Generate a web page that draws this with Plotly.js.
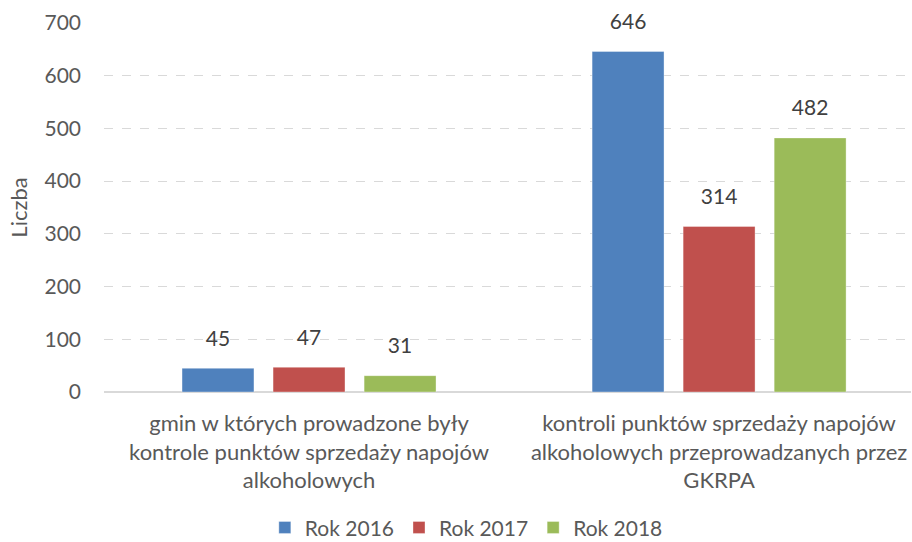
<!DOCTYPE html>
<html>
<head>
<meta charset="utf-8">
<script src="https://cdn.plot.ly/plotly-3.0.1.min.js"></script>
<style>html,body{margin:0;padding:0;background:#fff;}#chart{width:912px;height:542px;}</style>
</head>
<body>
<div id="chart"></div>
<script>
const categories = [
  "gmin w których prowadzone były<br>kontrole punktów sprzedaży napojów<br>alkoholowych",
  "kontroli punktów sprzedaży napojów<br>alkoholowych przeprowadzanych przez<br>GKRPA"
];
const seriesNames = ["Rok 2016", "Rok 2017", "Rok 2018"];
const values2016 = [45, 646];
const values2017 = [47, 314];
const values2018 = [31, 482];
const seriesValues = [values2016, values2017, values2018];
const colors = ["#4F81BD", "#C0504D", "#9BBB59"];

const FONT = "Lato, 'Open Sans', sans-serif";
const TXT = "#595959";

const traces = [];
seriesValues.forEach((vals, i) => {
  traces.push({
    type: "bar",
    name: seriesNames[i],
    x: categories,
    y: vals,
    offsetgroup: String(i),
    marker: {color: colors[i], line: {color: "rgba(255,255,255,0.35)", width: 1}},
    hoverinfo: "skip"
  });
});
seriesValues.forEach((vals, i) => {
  traces.push({
    type: "scatter",
    mode: "markers+text",
    x: categories,
    y: vals,
    offsetgroup: String(i),
    text: vals.map(String),
    textposition: "top center",
    textfont: {family: FONT, size: 21, color: "#404040"},
    marker: {size: 26, opacity: 0},
    showlegend: false,
    hoverinfo: "skip",
    cliponaxis: false
  });
});

const layout = {
  width: 912, height: 542,
  margin: {l: 104, r: 1, t: 23, b: 150, autoexpand: false},
  paper_bgcolor: "#fff", plot_bgcolor: "#fff",
  barmode: "group",
  scattermode: "group",
  bargap: 0.334,
  bargroupgap: 0.21,
  scattergap: 0.334,
  font: {family: FONT, color: TXT, size: 21},
  xaxis: {
    type: "category",
    range: [-0.5, 1.468],
    showgrid: false,
    showline: false,
    zeroline: false,
    ticks: "",
    ticklabelstandoff: 16,
    tickfont: {family: FONT, size: 22, color: TXT},
    fixedrange: true,
    automargin: false
  },
  yaxis: {
    range: [0, 700],
    dtick: 100,
    showgrid: true,
    gridcolor: "#D9D9D9",
    griddash: "dash",
    gridwidth: 1,
    zeroline: true,
    zerolinecolor: "#D9D9D9",
    zerolinewidth: 1.5,
    showline: false,
    ticks: "",
    ticklabelstandoff: 22,
    tickfont: {family: FONT, size: 21, color: TXT},
    title: {text: "Liczba", font: {family: FONT, size: 22, color: TXT}, standoff: 10},
    fixedrange: true,
    automargin: false
  },
  legend: {
    orientation: "h",
    x: 0.449, xanchor: "center",
    y: -0.368, yanchor: "middle",
    font: {family: FONT, size: 21, color: TXT},
    itemclick: false
  },
  showlegend: true
};

Plotly.newPlot("chart", traces, layout, {displayModeBar: false, staticPlot: true});
</script>
</body>
</html>
